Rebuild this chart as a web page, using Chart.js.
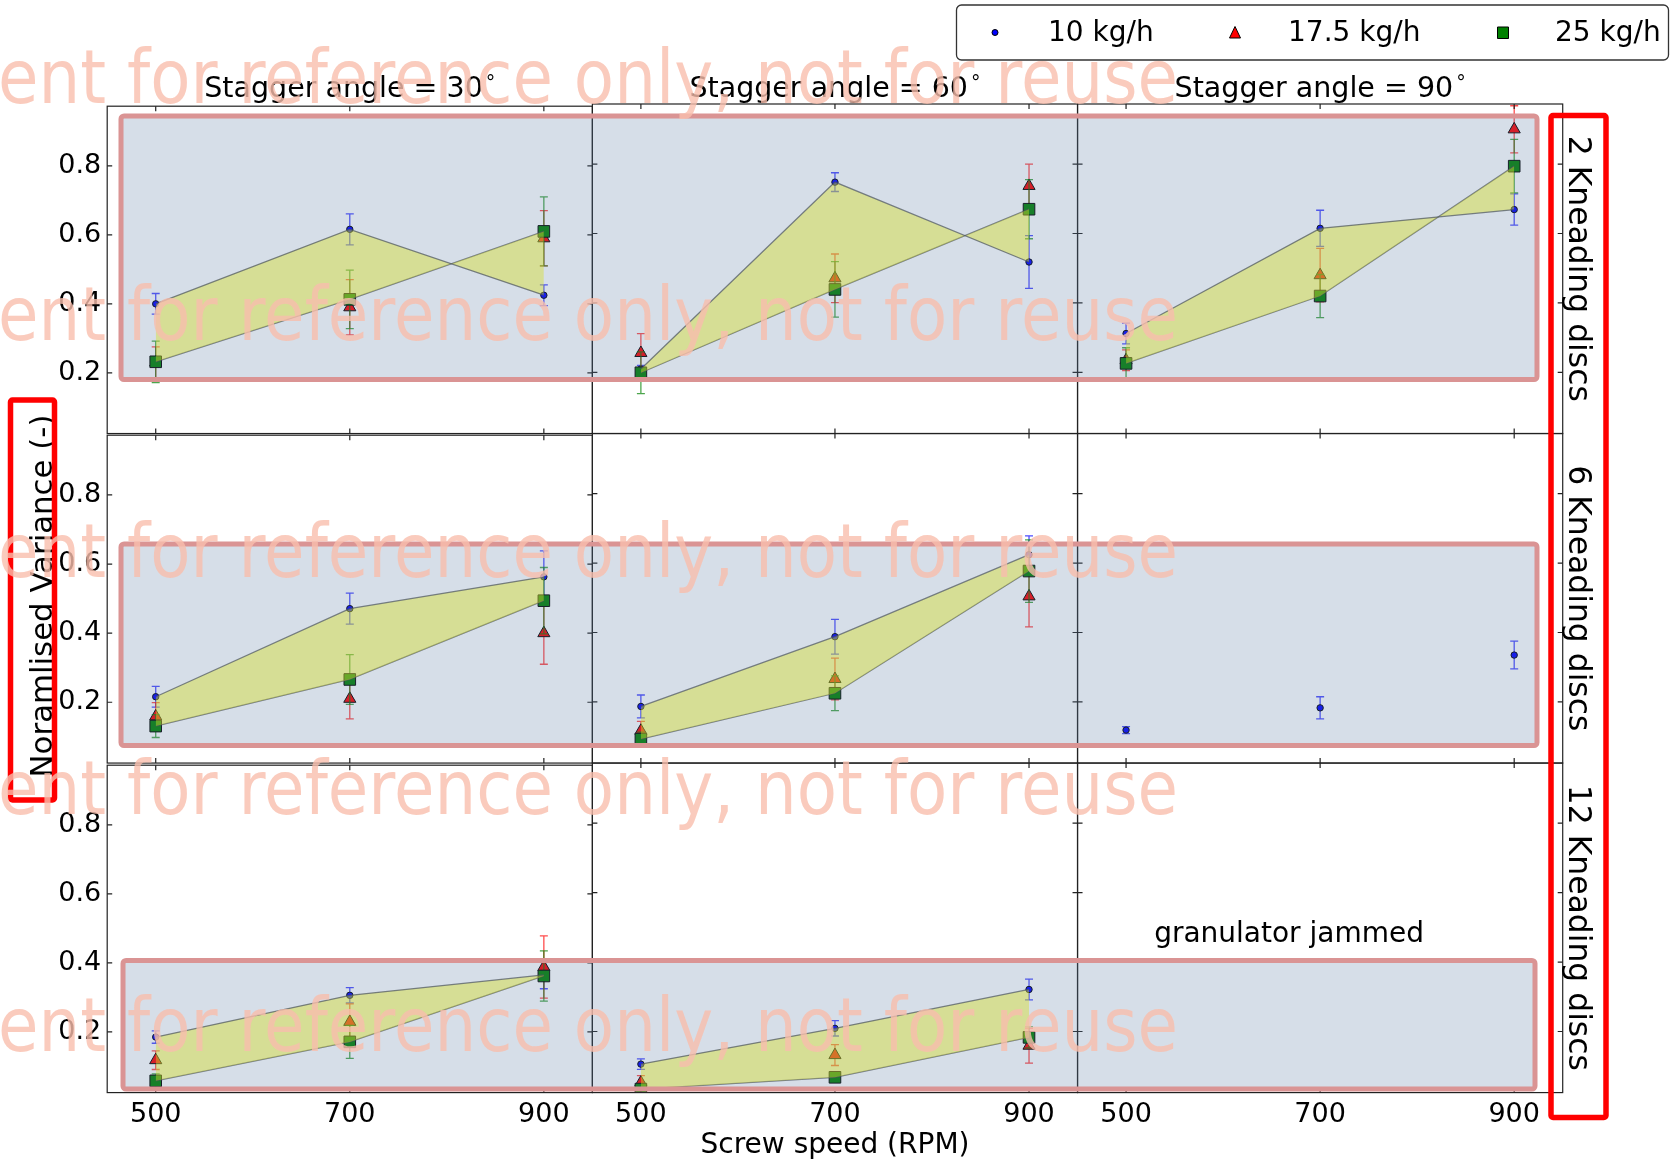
<!DOCTYPE html>
<html>
<head>
<meta charset="utf-8">
<script src="https://cdn.jsdelivr.net/npm/chart.js@4.4.1/dist/chart.umd.min.js"></script>
<style>
    html, body { margin: 0; padding: 0; background: #fff; }
    #stage { position: relative; width: 1675px; height: 1163px; overflow: hidden; }
    #stage canvas { position: absolute; }
</style>
</head>
<body>
<div id="stage"></div>
<script>
    'use strict';

    // ---- data ----
    const speeds = [500, 700, 900];
    const speedTicks = [500, 700, 900];
    const varianceTicks = [0.2, 0.4, 0.6, 0.8];
    const flowLabels = ['10 kg/h', '17.5 kg/h', '25 kg/h'];
    const angleTitles = ['Stagger angle = 30', 'Stagger angle = 60', 'Stagger angle = 90'];
    const discLabels = ['2 Kneading discs', '6 Kneading discs', '12 Kneading discs'];

    // each array: [30 deg, 60 deg, 90 deg], each of those: values at 500/700/900 rpm
    const disc2_f10 = [[0.40, 0.616, 0.425], [0.21, 0.748, 0.518], [0.312, 0.615, 0.669]];
    const disc2_f10_err = [[0.03, 0.045, 0.03], [0.01, 0.027, 0.076], [0.03, 0.052, 0.045]];
    const disc2_f17 = [[0.23, 0.39, 0.59], [0.256, 0.471, 0.737], [0.235, 0.48, 0.90]];
    const disc2_f17_err = [[0.045, 0.08, 0.08], [0.056, 0.07, 0.063], [0.03, 0.077, 0.068]];
    const disc2_f25 = [[0.232, 0.413, 0.61], [0.199, 0.439, 0.67], [0.226, 0.42, 0.794]];
    const disc2_f25_err = [[0.06, 0.085, 0.10], [0.06, 0.08, 0.085], [0.045, 0.062, 0.077]];

    const disc6_f10 = [[0.216, 0.471, 0.563], [0.187, 0.388, 0.624], [0.119, 0.183, 0.335]];
    const disc6_f10_err = [[0.03, 0.045, 0.075], [0.033, 0.05, 0.054], [0.01, 0.032, 0.04]];
    const disc6_f17 = [[0.159, 0.21, 0.40], [0.117, 0.266, 0.504], null];
    const disc6_f17_err = [[0.04, 0.058, 0.09], [0.027, 0.06, 0.088], null];
    const disc6_f25 = [[0.131, 0.266, 0.494], [0.093, 0.225, 0.577], null];
    const disc6_f25_err = [[0.033, 0.072, 0.096], [0.02, 0.05, 0.09], null];

    const disc12_f10 = [[0.185, 0.306, 0.365], [0.106, 0.209, 0.321], null];
    const disc12_f10_err = [[0.018, 0.022, 0.04], [0.015, 0.022, 0.03], null];
    const disc12_f17 = [[0.118, 0.229, 0.388], [0.053, 0.132, 0.159], null];
    const disc12_f17_err = [[0.027, 0.052, 0.09], [0.02, 0.03, 0.05], null];
    const disc12_f25 = [[0.058, 0.171, 0.362], [0.034, 0.068, 0.183], null];
    const disc12_f25_err = [[0.02, 0.048, 0.073], [0.01, 0.01, 0.03], null];

    const jammedNote = 'granulator jammed';
    const watermark = 'ent for reference only, not for reuse';

    // ---- layout / style ----
    const FONT = '"DejaVu Sans", "Bitstream Vera Sans", sans-serif';
    const plotLeft = 107.2, plotTop = 104, panelW = 485.17, panelH = 329.53;
    const xMin = 450, xMax = 950, yMin = 0.024, yMax = 0.973;

    const meanRows = [
        [disc2_f10, disc2_f17, disc2_f25],
        [disc6_f10, disc6_f17, disc6_f25],
        [disc12_f10, disc12_f17, disc12_f25]
    ];
    const errRows = [
        [disc2_f10_err, disc2_f17_err, disc2_f25_err],
        [disc6_f10_err, disc6_f17_err, disc6_f25_err],
        [disc12_f10_err, disc12_f17_err, disc12_f25_err]
    ];

    const seriesStyle = [
        { pointStyle: 'circle', radius: 3.2, color: '#0000ff', errColor: 'rgba(0,0,255,0.7)', order: 3 },
        { pointStyle: 'triangle', radius: 7, color: '#ff0000', errColor: 'rgba(255,0,0,0.7)', order: 2 },
        { pointStyle: 'rect', radius: 8.2, color: '#008000', errColor: 'rgba(0,128,0,0.7)', order: 1 }
    ];

    const stage = document.getElementById('stage');

    const errorBars = {
        id: 'errorBars',
        beforeDatasetDraw(chart, args) {
            const ds = chart.data.datasets[args.index];
            if (!ds.errors) return;
            const { ctx, chartArea: a, scales: { x, y } } = chart;
            ctx.save();
            ctx.beginPath();
            ctx.rect(a.left, a.top, a.width, a.height);
            ctx.clip();
            ctx.strokeStyle = ds.errorColor;
            ctx.lineWidth = 1.3;
            ds.data.forEach(function (p, i) {
                const px = x.getPixelForValue(p.x);
                const lo = y.getPixelForValue(p.y - ds.errors[i]);
                const hi = y.getPixelForValue(p.y + ds.errors[i]);
                ctx.beginPath();
                ctx.moveTo(px, lo); ctx.lineTo(px, hi);
                ctx.moveTo(px - 4, lo); ctx.lineTo(px + 4, lo);
                ctx.moveTo(px - 4, hi); ctx.lineTo(px + 4, hi);
                ctx.stroke();
            });
            ctx.restore();
        }
    };

    const frame = {
        id: 'frame',
        afterDatasetsDraw(chart, args, opts) {
            const { ctx, chartArea: a, scales: { x, y } } = chart;
            ctx.save();
            ctx.strokeStyle = '#222';
            ctx.lineWidth = 1.2;
            ctx.strokeRect(a.left, a.top, a.width, a.height);
            ctx.beginPath();
            speedTicks.forEach(function (v) {
                const px = x.getPixelForValue(v);
                ctx.moveTo(px, a.bottom); ctx.lineTo(px, a.bottom - 5);
                ctx.moveTo(px, a.top); ctx.lineTo(px, a.top + 5);
            });
            varianceTicks.forEach(function (v) {
                const py = y.getPixelForValue(v);
                ctx.moveTo(a.left, py); ctx.lineTo(a.left + 5, py);
                ctx.moveTo(a.right, py); ctx.lineTo(a.right - 5, py);
            });
            ctx.stroke();
            if (opts.note) {
                ctx.fillStyle = '#000';
                ctx.font = '28px ' + FONT;
                ctx.textAlign = 'center';
                ctx.fillText(opts.note, x.getPixelForValue(668), y.getPixelForValue(0.458));
            }
            ctx.restore();
        }
    };

    function pts(vals) {
        return vals.map(function (v, i) { return { x: speeds[i], y: v }; });
    }

    function makePanel(r, c) {
        const x0 = plotLeft + c * panelW, y0 = plotTop + r * panelH;
        const x1 = x0 + panelW, y1 = y0 + panelH;
        const cx = Math.floor(x0) - 100, cy = Math.floor(y0) - 20;
        const cw = Math.ceil(x1) + 4 - cx, ch = Math.ceil(y1) + 60 - cy;

        const canvas = document.createElement('canvas');
        canvas.width = cw; canvas.height = ch;
        canvas.style.left = cx + 'px'; canvas.style.top = cy + 'px';
        canvas.style.width = cw + 'px'; canvas.style.height = ch + 'px';
        stage.appendChild(canvas);

        const means = meanRows[r].map(function (s) { return s[c]; });
        const errs = errRows[r].map(function (s) { return s[c]; });
        const datasets = [];

        if (means[0] && means[2]) {
            datasets.push({
                data: pts(means[0]), showLine: true, borderColor: 'rgba(70,70,70,0.7)', borderWidth: 1.3,
                pointRadius: 0, fill: '+1', backgroundColor: 'rgba(255,255,0,0.43)', order: 0
            });
            datasets.push({
                data: pts(means[2]), showLine: true, borderColor: 'rgba(70,70,70,0.7)', borderWidth: 1.3,
                pointRadius: 0, fill: false, order: 0
            });
        }
        seriesStyle.forEach(function (s, k) {
            if (!means[k]) return;
            datasets.push({
                label: flowLabels[k], data: pts(means[k]), errors: errs[k], errorColor: s.errColor,
                showLine: false, pointStyle: s.pointStyle, pointRadius: s.radius,
                pointBackgroundColor: s.color, pointBorderColor: '#000', pointBorderWidth: 1, order: s.order
            });
        });

        const tickFont = { family: FONT, size: 27 };
        new Chart(canvas, {
            type: 'line',
            data: { datasets: datasets },
            plugins: [errorBars, frame],
            options: {
                responsive: false,
                animation: false,
                devicePixelRatio: 1,
                layout: { autoPadding: false, padding: { left: 0, top: y0 - cy, right: cx + cw - x1, bottom: 0 } },
                plugins: {
                    legend: { display: false },
                    tooltip: { enabled: false },
                    frame: { note: (r === 2 && c === 2) ? jammedNote : null }
                },
                scales: {
                    x: {
                        type: 'linear', min: xMin, max: xMax,
                        grid: { display: false, drawTicks: false }, border: { display: false },
                        afterBuildTicks: function (s) { s.ticks = speedTicks.map(function (v) { return { value: v }; }); },
                        afterFit: function (s) { s.height = cy + ch - y1; },
                        ticks: {
                            display: r === 2, padding: 6, color: '#000', font: tickFont,
                            maxRotation: 0, autoSkip: false,
                            callback: function (v) { return String(v); }
                        }
                    },
                    y: {
                        type: 'linear', min: yMin, max: yMax,
                        grid: { display: false, drawTicks: false }, border: { display: false },
                        afterBuildTicks: function (s) { s.ticks = varianceTicks.map(function (v) { return { value: v }; }); },
                        afterFit: function (s) { s.width = x0 - cx; },
                        ticks: {
                            display: c === 0, padding: 6, color: '#000', font: tickFont,
                            callback: function (v) { return v.toFixed(1); }
                        }
                    }
                }
            }
        });
    }

    for (let r = 0; r < 3; r++) {
        for (let c = 0; c < 3; c++) makePanel(r, c);
    }

    // ---- overlay: labels, legend, highlight boxes, watermark ----
    const over = document.createElement('canvas');
    over.width = 1675; over.height = 1163;
    over.style.left = '0px'; over.style.top = '0px';
    stage.appendChild(over);
    const ctx = over.getContext('2d');

    function text(str, x, y, size, align, rot) {
        ctx.save();
        ctx.translate(x, y);
        if (rot) ctx.rotate(rot);
        ctx.font = size + 'px ' + FONT;
        ctx.fillStyle = '#000';
        ctx.textAlign = align;
        ctx.textBaseline = 'alphabetic';
        ctx.fillText(str, 0, 0);
        ctx.restore();
    }

    // column titles with a superscript degree
    angleTitles.forEach(function (t, c) {
        const cxm = plotLeft + (c + 0.5) * panelW;
        ctx.font = '28.5px ' + FONT;
        const w = ctx.measureText(t).width;
        ctx.font = '19px ' + FONT;
        const wd = ctx.measureText('\u00b0').width;
        const left = cxm - (w + 3 + wd) / 2;
        text(t, left, 97.3, 28.5, 'left');
        text('\u00b0', left + w + 3, 89, 19, 'left');
    });

    // row labels on the right
    discLabels.forEach(function (t, r) {
        text(t, 1569, plotTop + (r + 0.5) * panelH, 31.4, 'center', Math.PI / 2);
    });

    text('Noramlised Variance (-)', 52, 596, 30.8, 'center', -Math.PI / 2);
    text('Screw speed (RPM)', 835, 1153, 28, 'center');

    // legend
    ctx.save();
    ctx.beginPath();
    ctx.roundRect(956.5, 5, 712, 55, 5);
    ctx.fillStyle = '#fff';
    ctx.fill();
    ctx.strokeStyle = '#333';
    ctx.lineWidth = 1.3;
    ctx.stroke();
    ctx.lineWidth = 1;
    ctx.strokeStyle = '#000';
    ctx.fillStyle = seriesStyle[0].color;
    ctx.beginPath(); ctx.arc(995, 32.5, 3, 0, Math.PI * 2); ctx.fill(); ctx.stroke();
    ctx.fillStyle = seriesStyle[1].color;
    ctx.beginPath(); ctx.moveTo(1235, 26.5); ctx.lineTo(1240.5, 38); ctx.lineTo(1229.5, 38); ctx.closePath(); ctx.fill(); ctx.stroke();
    ctx.fillStyle = seriesStyle[2].color;
    ctx.beginPath(); ctx.rect(1497.5, 27, 11, 11.5); ctx.fill(); ctx.stroke();
    ctx.restore();
    text(flowLabels[0], 1048, 41, 28, 'left');
    text(flowLabels[1], 1288, 41, 28, 'left');
    text(flowLabels[2], 1555, 41, 28, 'left');

    // highlight boxes
    [[121, 116, 1537, 379.5], [121, 544, 1537, 745.5], [123, 960.5, 1535, 1089]].forEach(function (b) {
        ctx.beginPath();
        ctx.roundRect(b[0], b[1], b[2] - b[0], b[3] - b[1], 3);
        ctx.fillStyle = 'rgba(91,123,163,0.25)';
        ctx.fill();
        ctx.strokeStyle = '#da9494';
        ctx.lineWidth = 5;
        ctx.stroke();
    });
    [[10.5, 400, 54.5, 800], [1551, 115.5, 1606, 1117.5]].forEach(function (b) {
        ctx.beginPath();
        ctx.roundRect(b[0], b[1], b[2] - b[0], b[3] - b[1], 2);
        ctx.strokeStyle = '#ff0000';
        ctx.lineWidth = 5.5;
        ctx.stroke();
    });

    // watermark rows
    ctx.save();
    ctx.font = '74px ' + FONT;
    const wmW = ctx.measureText(watermark).width;
    ctx.fillStyle = 'rgba(249,190,172,0.8)';
    [103, 340, 577, 814, 1051, 1288].forEach(function (yb) {
        ctx.save();
        ctx.translate(-2, yb);
        ctx.scale(1180 / wmW, 1);
        ctx.fillText(watermark, 0, 0);
        ctx.restore();
    });
    ctx.restore();
</script>
</body>
</html>
